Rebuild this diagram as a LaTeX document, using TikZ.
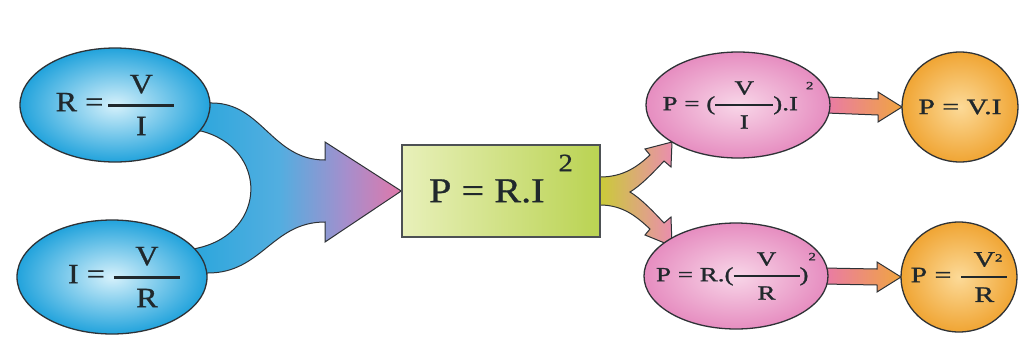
\documentclass[tikz,border=0pt]{standalone}
\usepackage{fontspec}
\setmainfont{Liberation Serif}
\newfontfamily\fa[FakeStretch=1.15,FakeBold=0.8]{Liberation Serif}
\newfontfamily\fb[FakeStretch=1.35,FakeBold=1.2]{Liberation Serif}
\usetikzlibrary{shapes.geometric,calc}
\pgfdeclarelayer{bg}
\pgfsetlayers{bg,main}
\definecolor{edge}{HTML}{2E3236}
\definecolor{tcol}{HTML}{20282C}
\definecolor{bin}{HTML}{D6F1FB}
\definecolor{bout}{HTML}{22A3DC}
\definecolor{pin}{HTML}{F8D6E8}
\definecolor{pout}{HTML}{E68DC0}
\definecolor{oin}{HTML}{FCDA98}
\definecolor{oout}{HTML}{F0A534}
\definecolor{gleft}{HTML}{E8F0BA}
\definecolor{gright}{HTML}{BAD352}
\definecolor{ablue}{HTML}{2AA6DC}
\definecolor{ablue2}{HTML}{52AEE0}
\definecolor{alav}{HTML}{A68ECC}
\definecolor{apink}{HTML}{E078AA}
\definecolor{fyel}{HTML}{C8CF30}
\definecolor{fmid}{HTML}{E9B07C}
\definecolor{fpink}{HTML}{EA8EAE}
\definecolor{spink}{HTML}{E97AA8}
\definecolor{sorange}{HTML}{F0A540}
\pgfdeclarehorizontalshading{bigarrowshade}{100bp}{color(0bp)=(ablue); color(25bp)=(ablue); color(46bp)=(ablue2); color(62bp)=(alav); color(75bp)=(apink); color(100bp)=(apink)}
% fraction: width, gap, rule, numerator, denominator
\newcommand\fr[5]{\ensuremath{\vcenter{\offinterlineskip\halign{\hfil##\hfil\cr\hbox to #1{\hfil#4\hfil}\cr\noalign{\kern#2\hrule height #3\kern#2}\hbox to #1{\hfil#5\hfil}\cr}}}}
\newcommand\sq[2]{\raisebox{#1}[0pt][0pt]{\fontsize{#2}{#2}\selectfont 2}}
\begin{document}
\begin{tikzpicture}[x=1pt,y=-1pt,
  ell/.style={ellipse, draw=edge, line width=1.3pt, inner sep=0pt, outer sep=0pt, text=tcol},
  blueell/.style={ell, minimum width=190pt, minimum height=114pt, inner color=bin, outer color=bout, font=\fa\fontsize{28}{30}\selectfont},
  pinkell/.style={ell, minimum width=184pt, minimum height=106pt, inner color=pin, outer color=pout, font=\fb\fontsize{20}{22}\selectfont},
  orangeell/.style={ell, minimum width=116pt, minimum height=110pt, inner color=oin, outer color=oout, font=\fb\fontsize{22}{24}\selectfont},
  greenbox/.style={rectangle, draw=edge!85, line width=1.5pt, minimum width=198pt, minimum height=92pt, inner sep=0pt, left color=gleft, right color=gright, text=tcol, font=\fa\fontsize{35}{38}\selectfont},
  bigarrow/.style={draw=edge, line width=1pt, shading=bigarrowshade},
  forkarrow/.style={draw=edge, line width=1pt, left color=fyel, middle color=fmid, right color=fpink},
  smallarrow/.style={draw=edge, line width=1pt, left color=spink, right color=sorange}
]
\useasboundingbox (0,0) rectangle (1023,346);

\node[blueell] (r1) at (115,105) {\makebox[0pt]{R =\hspace{5pt}\fr{66pt}{10pt}{3.2pt}{V}{I}}};
\node[blueell] (i1) at (112,277) {\makebox[0pt]{\hspace{24pt}I =\hspace{9pt}\fr{66pt}{10pt}{3.2pt}{V}{R}}};
\node[greenbox] (m) at (501,191) {P = R.I\hspace{14pt}\sq{31pt}{25}};
\node[pinkell] (p1) at (738,105) {\makebox[0pt]{P = (\fr{58pt}{9pt}{2.6pt}{V}{I}).I\hspace{8pt}\sq{21pt}{11}}};
\node[pinkell] (p2) at (736,276) {\makebox[0pt]{P = R.(\fr{66pt}{9pt}{2.6pt}{V}{R})\sq{21pt}{11}}};
\node[orangeell] (o1) at (960,107) {\makebox[0pt]{P = V.I}};
\node[orangeell] (o2) at (959,277) {\makebox[0pt]{P =\hspace{10pt}\fr{46pt}{9pt}{2.6pt}{V\rlap{\sq{5pt}{11}}}{R}}};

\begin{pgfonlayer}{bg}
\fill[white] (0,0) rectangle (1023,346);
\path[bigarrow] (190,100) -- (212,103) .. controls (262,103) and (272,160) .. (325,160) -- (325,142) -- (m.west) -- (325,242) -- (325,222) .. controls (272,222) and (262,273) .. (208,273) -- (190,273) -- (190,250) -- (198,248) .. controls (268,232) and (268,148) .. (201,131) -- (190,131) -- cycle;
\path[forkarrow] (595,177) -- (600,177) .. controls (624,177) and (638,166) .. (650,155) -- (645,149) -- (672,142) -- (671,167) -- (664,161) .. controls (652,174) and (640,186) .. (630,192) .. controls (640,198) and (652,210) .. (664,223) -- (671,217) -- (672,246) -- (645,235) -- (650,229) .. controls (638,218) and (624,205) .. (600,205) -- (595,205) -- cycle;
\path[smallarrow] ($(p1.east)+(-4,-8)$) -- ($(o1.west)+(-24,-8)$) -- ($(o1.west)+(-24,-15)$) -- (o1.west) -- ($(o1.west)+(-24,15)$) -- ($(o1.west)+(-24,8)$) -- ($(p1.east)+(-4,8)$) -- cycle;
\path[smallarrow] ($(p2.east)+(-4,-8)$) -- ($(o2.west)+(-24,-8)$) -- ($(o2.west)+(-24,-15)$) -- (o2.west) -- ($(o2.west)+(-24,15)$) -- ($(o2.west)+(-24,8)$) -- ($(p2.east)+(-4,8)$) -- cycle;
\end{pgfonlayer}
\end{tikzpicture}
\end{document}
